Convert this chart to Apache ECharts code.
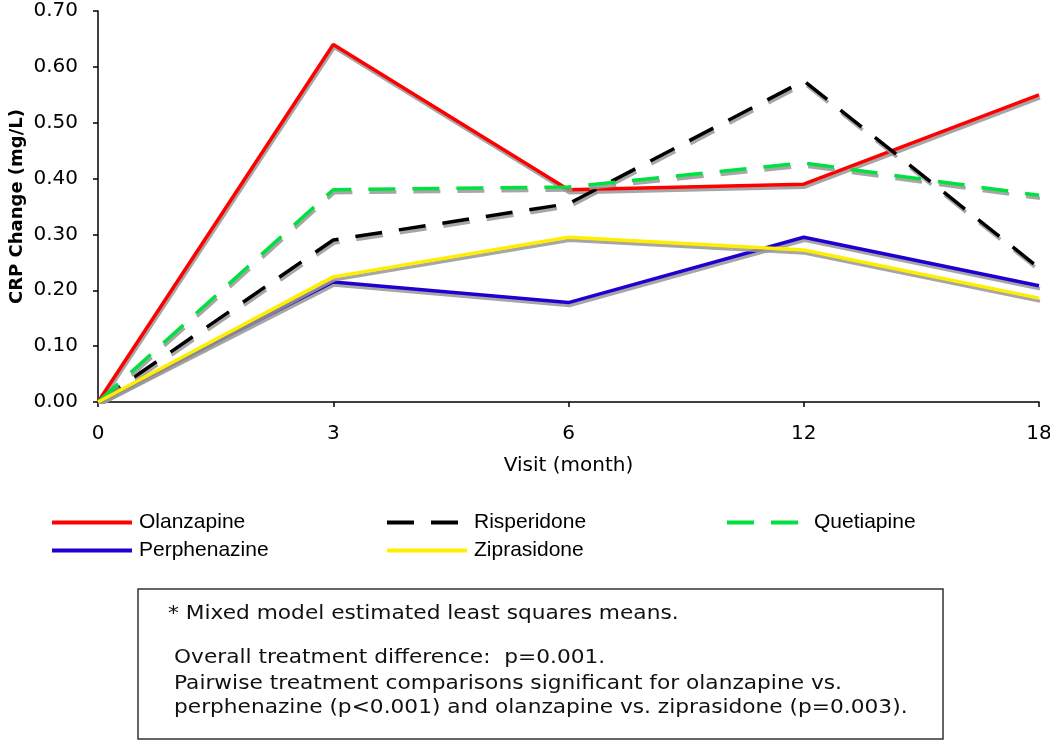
<!DOCTYPE html>
<html>
<head>
<meta charset="utf-8">
<script src="https://cdn.jsdelivr.net/npm/echarts@6/dist/echarts.min.js"></script>
<style>
    html, body { margin: 0; padding: 0; background: #fff; }
    #chart { width: 1050px; height: 741px; }
</style>
</head>
<body>
<div id="chart"></div>
<script>
// visits (month) and CRP change (mg/L)
const visits = ["0", "3", "6", "12", "18"];
const olanzapine = [0, 0.64, 0.38, 0.39, 0.55];
const risperidone = [0, 0.29, 0.355, 0.575, 0.24];
const quetiapine = [0, 0.38, 0.385, 0.428, 0.37];
const perphenazine = [0, 0.215, 0.178, 0.295, 0.208];
const ziprasidone = [0, 0.224, 0.295, 0.272, 0.186];
const yTicks = [0, 0.1, 0.2, 0.3, 0.4, 0.5, 0.6, 0.7];
const notes = [
    "* Mixed model estimated least squares means.",
    "Overall treatment difference:  p=0.001.",
    "Pairwise treatment comparisons significant for olanzapine vs.",
    "perphenazine (p<0.001) and olanzapine vs. ziprasidone (p=0.003)."
];

const chart = echarts.init(document.getElementById("chart"));

function makeSeries(name, values, color, dashed) {
    return {
        name: name,
        type: "line",
        data: values,
        symbol: "none",
        z: 3,
        lineStyle: {
            color: color,
            width: 3.5,
            type: dashed ? [27, 17] : "solid",
            shadowColor: "rgba(150,150,150,0.85)",
            shadowOffsetX: 1,
            shadowOffsetY: 3,
            shadowBlur: 0
        },
        itemStyle: { color: color }
    };
}

function makeLegend(names, left) {
    return {
        data: names,
        orient: "vertical",
        left: left,
        top: 507,
        itemWidth: 80,
        itemHeight: 16,
        itemGap: 7,
        textStyle: { fontFamily: "Liberation Sans", fontSize: 21, color: "#000", padding: [0, 0, 0, 2] },
        itemStyle: { opacity: 0 },
        lineStyle: { width: 4, shadowColor: "rgba(0,0,0,0)", shadowOffsetY: 0, shadowOffsetX: 0 }
    };
}

const noteY = [614, 658, 684, 708];
const noteX = [168, 174, 174, 174];

const option = {
    backgroundColor: "#fff",
    animation: false,
    grid: { left: 98, right: 11, top: 11, bottom: 339, outerBoundsMode: "none", containLabel: false },
    legend: [
        makeLegend(["Olanzapine", "Perphenazine"], 45),
        makeLegend(["Risperidone", "Ziprasidone"], 380),
        makeLegend(["Quetiapine"], 720)
    ],
    xAxis: {
        type: "category",
        data: visits,
        boundaryGap: false,
        name: "Visit (month)",
        nameLocation: "middle",
        nameGap: 54,
        nameMoveOverlap: false,
        nameTextStyle: { fontFamily: "DejaVu Sans", fontSize: 20, color: "#000" },
        axisLine: { lineStyle: { color: "#000", width: 1.5 } },
        axisTick: { length: 5, lineStyle: { color: "#000", width: 1.5 } },
        axisLabel: { margin: 22, fontFamily: "DejaVu Sans", fontSize: 20, color: "#000" },
        splitLine: { show: false }
    },
    yAxis: {
        type: "value",
        min: yTicks[0],
        max: yTicks[yTicks.length - 1],
        interval: 0.1,
        name: "CRP Change (mg/L)",
        nameLocation: "middle",
        nameGap: 72,
        nameMoveOverlap: false,
        nameTextStyle: { fontFamily: "DejaVu Sans", fontWeight: "bold", fontSize: 18, color: "#000" },
        axisLine: { show: true, lineStyle: { color: "#000", width: 1.5 } },
        axisTick: { show: true, length: 5, lineStyle: { color: "#000", width: 1.5 } },
        axisLabel: {
            margin: 20,
            fontFamily: "DejaVu Sans",
            fontSize: 20,
            color: "#000",
            formatter: function (v) { return v.toFixed(2); }
        },
        splitLine: { show: false }
    },
    graphic: [
        {
            type: "rect",
            shape: { x: 138, y: 589, width: 805, height: 150 },
            style: { fill: "#fff", stroke: "#333", lineWidth: 1.5 }
        }
    ].concat(notes.map(function (t, i) {
        return {
            type: "text",
            x: noteX[i],
            y: noteY[i],
            scaleX: 1.085,
            style: {
                text: t,
                fill: "#111",
                fontFamily: "DejaVu Sans",
                fontSize: 20,
                verticalAlign: "middle"
            }
        };
    })),
    series: [
        makeSeries("Olanzapine", olanzapine, "#ff0000", false),
        makeSeries("Risperidone", risperidone, "#000000", true),
        makeSeries("Quetiapine", quetiapine, "#00e040", true),
        makeSeries("Perphenazine", perphenazine, "#1f00d0", false),
        makeSeries("Ziprasidone", ziprasidone, "#ffee00", false)
    ]
};

chart.setOption(option);
</script>
</body>
</html>
